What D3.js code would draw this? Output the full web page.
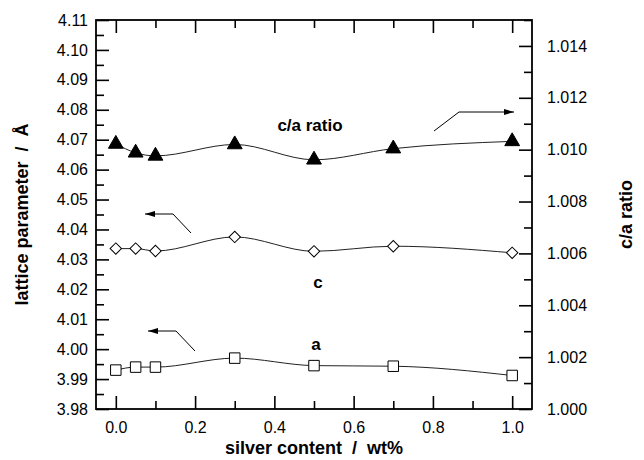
<!DOCTYPE html>
<html><head><meta charset="utf-8">
<script src="https://cdn.jsdelivr.net/npm/d3@7"></script>
<style>
body{margin:0;background:#fff}
svg{display:block}
text{font-family:"Liberation Sans",Arial,sans-serif;fill:#000;white-space:pre}
</style>
</head><body>
<svg id="chart" width="644" height="460"></svg>
<script>
// ---- data ----
const silver   = [0.0, 0.05, 0.1, 0.3, 0.5, 0.7, 1.0];
const latticeA = [3.9930, 3.9940, 3.9940, 3.9970, 3.9945, 3.9943, 3.9912];
const latticeC = [4.0336, 4.0336, 4.0328, 4.0375, 4.0327, 4.0344, 4.0322];
const caRatio  = [1.01022, 1.00988, 1.00976, 1.01020, 1.00961, 1.01004, 1.01032];
const xTicks      = [0.0, 0.2, 0.4, 0.6, 0.8, 1.0];
const xMinorTicks = [0.1, 0.3, 0.5, 0.7, 0.9];
const leftTicks   = [3.98, 3.99, 4.00, 4.01, 4.02, 4.03, 4.04, 4.05, 4.06, 4.07, 4.08, 4.09, 4.10, 4.11];
const leftMinor   = [3.985, 3.995, 4.005, 4.015, 4.025, 4.035, 4.045, 4.055, 4.065, 4.075, 4.085, 4.095, 4.105];
const rightTicks  = [1.000, 1.002, 1.004, 1.006, 1.008, 1.010, 1.012, 1.014];
const rightMinor  = [1.001, 1.003, 1.005, 1.007, 1.009, 1.011, 1.013, 1.015];

// ---- layout ----
const L = 96, R = 532, T = 20, B = 409;
const svg = d3.select("#chart");
const x  = d3.scaleLinear().domain([-0.05, 1.05]).range([L, R]);
const yL = d3.scaleLinear().domain([3.98, 4.11]).range([B, T]);
const yR = d3.scaleLinear().domain([1.000, 1.015]).range([B, T]);
const MAJ = 13, MIN = 8;

function clean(g){ g.select(".domain").remove(); g.selectAll("line").attr("stroke","#000").attr("stroke-width",1.6); }

// bottom axis
svg.append("g").attr("transform",`translate(0,${B})`)
  .call(d3.axisBottom(x).tickValues(xTicks).tickSize(-MAJ).tickPadding(13).tickFormat(d3.format(".1f")))
  .call(clean).selectAll("text").attr("font-size",16);
svg.append("g").attr("transform",`translate(0,${B})`)
  .call(d3.axisBottom(x).tickValues(xMinorTicks).tickSize(-MIN).tickFormat(""))
  .call(clean);
// top axis (ticks only)
svg.append("g").attr("transform",`translate(0,${T})`)
  .call(d3.axisTop(x).tickValues(xTicks).tickSize(-MAJ).tickFormat(""))
  .call(clean);
svg.append("g").attr("transform",`translate(0,${T})`)
  .call(d3.axisTop(x).tickValues(xMinorTicks).tickSize(-MIN).tickFormat(""))
  .call(clean);
// left axis
svg.append("g").attr("transform",`translate(${L},0)`)
  .call(d3.axisLeft(yL).tickValues(leftTicks).tickSize(-MAJ).tickPadding(8).tickFormat(d3.format(".2f")))
  .call(clean).selectAll("text").attr("font-size",16);
svg.append("g").attr("transform",`translate(${L},0)`)
  .call(d3.axisLeft(yL).tickValues(leftMinor).tickSize(-MIN).tickFormat(""))
  .call(clean);
// right axis
svg.append("g").attr("transform",`translate(${R},0)`)
  .call(d3.axisRight(yR).tickValues(rightTicks).tickSize(-MAJ).tickPadding(15).tickFormat(d3.format(".3f")))
  .call(clean).selectAll("text").attr("font-size",16);
svg.append("g").attr("transform",`translate(${R},0)`)
  .call(d3.axisRight(yR).tickValues(rightMinor).tickSize(-MIN).tickFormat(""))
  .call(clean);

// frame
svg.append("rect").attr("x",L).attr("y",T).attr("width",R-L).attr("height",B-T)
  .attr("fill","none").attr("stroke","#000").attr("stroke-width",1.8);

// axis titles
svg.append("text").attr("transform",`translate(28,${(T+B)/2}) rotate(-90)`)
  .attr("text-anchor","middle").attr("font-size",18).attr("font-weight","bold")
  .text("lattice parameter  /  Å");
svg.append("text").attr("transform",`translate(632,${(T+B)/2}) rotate(-90)`)
  .attr("text-anchor","middle").attr("font-size",18).attr("font-weight","bold")
  .text("c/a ratio");
svg.append("text").attr("x",(L+R)/2).attr("y",454)
  .attr("text-anchor","middle").attr("font-size",18).attr("font-weight","bold")
  .text("silver content  /  wt%");

// series
function series(vals, yScale, symType, style, size){
  const pts = silver.map((s,i)=>[x(s), yScale(vals[i])]);
  svg.append("path").attr("d", d3.line().curve(d3.curveMonotoneX)(pts))
    .attr("fill","none").attr("stroke","#222").attr("stroke-width",1);
  const sym = d3.symbol().type(symType).size(size);
  svg.append("g").selectAll("path").data(pts).join("path")
    .attr("transform",d=>`translate(${d[0]},${d[1]})` + (style==="diamond" ? " rotate(45)" : ""))
    .attr("d", sym)
    .attr("fill", style==="filled" ? "#000" : "#fff")
    .attr("stroke","#000").attr("stroke-width",1);
}
series(caRatio, yR, d3.symbolTriangle, "filled", 95);
series(latticeC, yL, d3.symbolSquare, "diamond", 65);
series(latticeA, yL, d3.symbolSquare, "open", 110);

// labels
svg.append("text").attr("x",310).attr("y",131).attr("text-anchor","middle")
  .attr("font-size",17).attr("font-weight","bold").text("c/a ratio");
svg.append("text").attr("x",318).attr("y",288).attr("text-anchor","middle")
  .attr("font-size",17).attr("font-weight","bold").text("c");
svg.append("text").attr("x",316).attr("y",350).attr("text-anchor","middle")
  .attr("font-size",17).attr("font-weight","bold").text("a");

// arrows
const defs = svg.append("defs");
defs.append("marker").attr("id","ah").attr("viewBox","0 0 10 6").attr("refX",10).attr("refY",3)
  .attr("markerWidth",10).attr("markerHeight",6).attr("markerUnits","userSpaceOnUse").attr("orient","auto")
  .append("path").attr("d","M0,0 L10,3 L0,6 Z").attr("fill","#000");
function arrow(p){
  svg.append("path").attr("d", d3.line()(p)).attr("fill","none").attr("stroke","#000")
    .attr("stroke-width",1).attr("marker-end","url(#ah)");
}
arrow([[434,131],[459,112],[514,112]]);
arrow([[191,233],[173,214],[145,214]]);
arrow([[195,351],[176,331],[148,331]]);
</script>
</body></html>
